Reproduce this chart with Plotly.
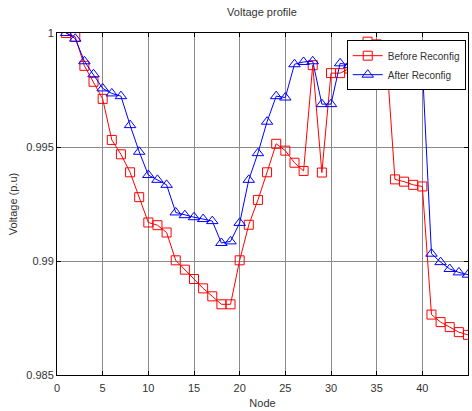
import plotly.graph_objects as go

nodes = list(range(1, 46))
before_reconfig = [
    1.0000, 0.99983, 0.99856, 0.99786, 0.99711, 0.99531, 0.99468, 0.99389, 0.99280, 0.99169,
    0.99157, 0.99125, 0.99003, 0.98962, 0.98921, 0.98880, 0.98845, 0.98810, 0.98810, 0.99003,
    0.99159, 0.99268, 0.99389, 0.99514, 0.99484, 0.99431, 0.99395, 0.99859, 0.99388, 0.99824,
    0.99824, 0.99844, 0.99900, 0.99962, 0.99950, 0.99941, 0.99358, 0.99348, 0.99334, 0.99327,
    0.98765, 0.98732, 0.98710, 0.98688, 0.98676,
]
after_reconfig = [
    1.0000, 0.99975, 0.99876, 0.99819, 0.99757, 0.99735, 0.99723, 0.99596, 0.99479, 0.99377,
    0.99356, 0.99334, 0.99213, 0.99201, 0.99192, 0.99184, 0.99175, 0.99079, 0.99086, 0.99167,
    0.99356, 0.99473, 0.99611, 0.99723, 0.99717, 0.99863, 0.99873, 0.99876, 0.99688, 0.99688,
    0.99867, 0.99859, 0.99870, 0.99875, 0.99878, 0.99878, 0.99872, 0.99868, 0.99862, 0.99855,
    0.99032, 0.98995, 0.98965, 0.98950, 0.98940,
]
x_ticks = [0, 5, 10, 15, 20, 25, 30, 35, 40, 45]
y_ticks = [0.985, 0.99, 0.995, 1.0]
y_tick_labels = ["0.985", "0.99", "0.995", "1"]

font = "Liberation Sans, Arial, sans-serif"

fig = go.Figure()
fig.add_trace(go.Scatter(
    x=nodes, y=before_reconfig, mode="lines+markers", name="Before Reconfig",
    line=dict(color="#ff0000", width=1),
    marker=dict(symbol="square-open", size=9, color="#ff0000", line=dict(width=1)),
))
fig.add_trace(go.Scatter(
    x=nodes, y=after_reconfig, mode="lines+markers", name="After Reconfig",
    line=dict(color="#0000ff", width=1),
    marker=dict(symbol="triangle-up-open", size=10, color="#0000ff", line=dict(width=1)),
))

axis_common = dict(
    showline=True, linecolor="black", linewidth=1, mirror="allticks",
    ticks="inside", ticklen=4, tickcolor="black", automargin=False,
    showgrid=True, gridcolor="#8a8a8a", gridwidth=1,
    zeroline=False, tickfont=dict(family=font, size=11, color="#333"),
)

fig.update_layout(
    width=472, height=411,
    margin=dict(l=57, r=4, t=33, b=36, autoexpand=False),
    paper_bgcolor="white", plot_bgcolor="white",
    font=dict(family=font, size=11, color="#333"),
    title=dict(text="Voltage profile", x=0.555, xanchor="center", y=0.98, yanchor="top",
               automargin=False, font=dict(family=font, size=11, color="#333")),
    xaxis=dict(range=[0, 45], tickvals=x_ticks, ticklabelstandoff=3,
               title=dict(text="Node", standoff=6, font=dict(family=font, size=11)),
               **axis_common),
    yaxis=dict(range=[0.985, 1.0], tickvals=y_ticks, ticktext=y_tick_labels,
               title=dict(text="Voltage (p.u)", standoff=6, font=dict(family=font, size=11)),
               **axis_common),
    legend=dict(x=0.705, y=0.979, xanchor="left", yanchor="top",
                bgcolor="white", bordercolor="black", borderwidth=1,
                font=dict(family=font, size=10, color="#333"),
                tracegroupgap=0, itemwidth=30),
    showlegend=True,
)

fig.write_html(
    "out.html",
    config={"displayModeBar": False},
    post_script="document.body.style.margin='0';document.body.style.overflow='hidden';",
)
